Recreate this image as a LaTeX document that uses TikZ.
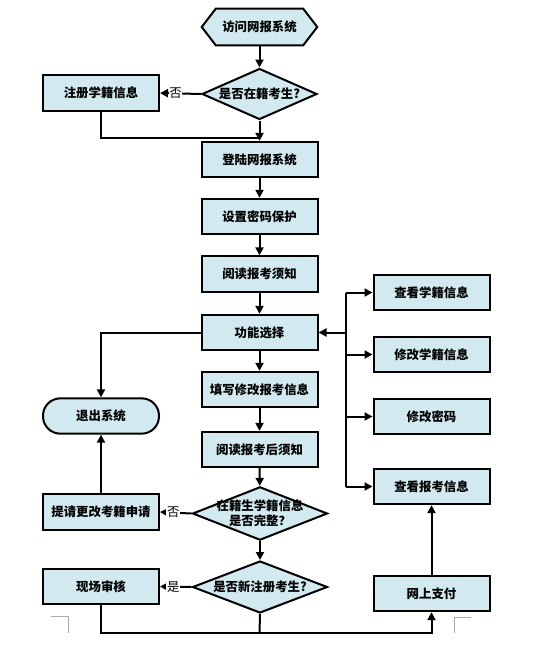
\documentclass[tikz,border=0pt]{standalone}
\usepackage{fontspec}
\setmainfont{Noto Sans CJK SC}
\usetikzlibrary{arrows.meta,shapes.geometric,backgrounds}
\definecolor{boxfill}{RGB}{210,233,240}
\definecolor{markgray}{RGB}{170,170,170}
\begin{document}
\begin{tikzpicture}[x=0.75pt,y=-0.75pt,
  txt/.style={font=\bfseries\fontsize{9.3}{11.5}\selectfont},
  box/.style={txt, draw=black, line width=1.5pt, fill=boxfill, minimum width=87pt, minimum height=26.5pt, inner sep=0pt},
  dia/.style={diamond, draw=black, line width=1.5pt, fill=boxfill, inner sep=0pt},
  lbl/.style={txt, align=center, inner sep=0pt},
  yn/.style={fill=white, inner sep=0.5pt, font=\fontsize{9.3}{11}\selectfont},
  conn/.style={line width=1.5pt},
  arr/.style={conn, -{Triangle[length=6pt,width=6pt]}},
  cornermark/.style={draw=markgray, line width=0.75pt}
]
\path[use as bounding box] (0,0) rectangle (535,664);

% start hexagon
\node[lbl, minimum width=86.25pt, minimum height=27pt] (start) at (259.5,27) {访问网报系统};
\begin{scope}[on background layer]
\draw[draw=black, line width=1.5pt, fill=boxfill]
  (start.west) -- ([xshift=10.5pt]start.north west) -- ([xshift=-10.5pt]start.north east)
  -- (start.east) -- ([xshift=-10.5pt]start.south east) -- ([xshift=10.5pt]start.south west) -- cycle;
\end{scope}

% main column
\node[dia, minimum width=86.25pt, minimum height=38.25pt, label={[lbl]center:是否在籍考生?}] (d1) at (259.5,94) {};
\node[box] (reg) at (101,93) {注册学籍信息};
\node[box] (login) at (259.5,159.5) {登陆网报系统};
\node[box] (pwd) at (259.5,216.5) {设置密码保护};
\node[box] (read) at (259.5,274) {阅读报考须知};
\node[box] (func) at (259.5,332.5) {功能选择};
\node[box] (fillin) at (259.5,389.5) {填写修改报考信息};
\node[box] (after) at (259.5,449.5) {阅读报考后须知};
\node[dia, minimum width=101.25pt, minimum height=40pt, label={[lbl]center:在籍生学籍信息\\是否完整？}] (d2) at (260,513.5) {};
\node[dia, minimum width=101.25pt, minimum height=39pt, label={[lbl]center:是否新注册考生?}] (d3) at (260,587) {};

% left column
\node[box, rounded corners=13pt] (exit) at (101,416) {退出系统};
\node[box] (req) at (101,512) {提请更改考籍申请};
\node[box] (site) at (101,586.5) {现场审核};

% right column
\node[box] (r1) at (431.5,292.5) {查看学籍信息};
\node[box] (r2) at (431.5,354.5) {修改学籍信息};
\node[box] (r3) at (431.5,416.5) {修改密码};
\node[box] (r4) at (431.5,486.5) {查看报考信息};
\node[box] (pay) at (431.5,593.5) {网上支付};

% connectors
\draw[arr] (start) -- (d1);
\draw[arr] (d1.west) -- node[yn, pos=0.62] {否} (reg.east);
\coordinate (j1) at (259.5,138);
\draw[conn] (reg.south) |- (j1);
\draw[arr] (d1.south) -- (login.north);
\draw[arr] (login) -- (pwd);
\draw[arr] (pwd) -- (read);
\draw[arr] (read) -- (func);
\draw[arr] (func) -- (fillin);
\draw[arr] (fillin) -- (after);
\draw[arr] (after) -- (d2);
\draw[arr] (d2) -- (d3);
\draw[arr] (func.west) -| (exit.north);
\draw[arr] (req) -- (exit);
\draw[arr] (d2.west) -- node[yn, pos=0.58] {否} (req.east);
\draw[arr] (d3.west) -- node[yn, pos=0.58] {是} (site.east);

% bus to the right column
\coordinate (b1) at (346,292.5);
\coordinate (b4) at (346,486.5);
\draw[conn] (b1) -- (b4);
\draw[arr] (b1) -- (b1 -| r1.west);
\draw[arr] (b1 |- r2) -- (r2.west);
\draw[arr] (b1 |- r3) -- (r3.west);
\draw[arr] (b4) -- (b4 -| r4.west);
\draw[arr] (b1 |- func) -- (func.east);

% bottom line
\coordinate (bot) at (259.5,633);
\draw[arr] (site.south) |- (bot -| pay.south) -- (pay.south);
\draw[conn] (d3.south) -- (bot);
\draw[arr] (pay) -- (r4);

% page corner marks
\draw[cornermark] (51,616) -- (68,616) -- (68,633);
\draw[cornermark] (454,633) -- (454,617) -- (471,617);
\end{tikzpicture}
\end{document}
